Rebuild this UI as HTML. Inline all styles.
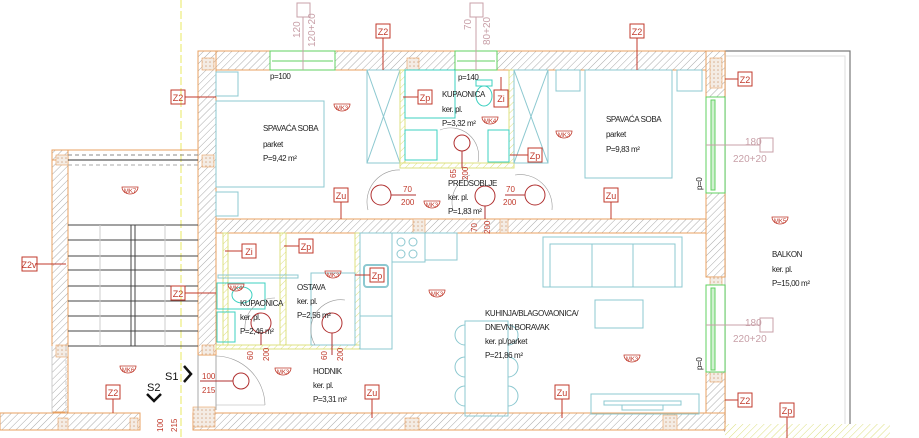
<!DOCTYPE html>
<html><head><meta charset="utf-8"><style>
html,body{margin:0;padding:0;background:#fff;width:919px;height:438px;overflow:hidden}
svg{display:block}
text{font-family:"Liberation Sans",sans-serif}
.t{font-size:8px;fill:#222;letter-spacing:-0.4px}
.r{fill:none;stroke:#c0392b;stroke-width:1}
.rt{font-size:9px;fill:#c0392b;text-anchor:middle}
.mk{font-size:6px;fill:#c0392b;text-anchor:middle}
.c{fill:none;stroke:#8cc8d0;stroke-width:1}
.cy{fill:none;stroke:#3cd0c0;stroke-width:1}
.d{font-size:8px;fill:#c0392b}
.g{font-size:10px;fill:#c8a0a8}
</style></head><body>
<svg width="919" height="438" viewBox="0 0 919 438" xmlns="http://www.w3.org/2000/svg">
<defs>
<pattern id="h" width="5" height="5" patternUnits="userSpaceOnUse" patternTransform="rotate(45)"><rect width="5" height="5" fill="#fff"/><line x1="0" y1="0" x2="0" y2="5" stroke="#aaa" stroke-width="1"/></pattern>
<pattern id="y" width="5" height="5" patternUnits="userSpaceOnUse" patternTransform="rotate(45)"><rect width="5" height="5" fill="#fff"/><line x1="0" y1="0" x2="0" y2="5" stroke="#dde080" stroke-width="1"/></pattern>
<pattern id="x" width="4" height="4" patternUnits="userSpaceOnUse"><rect width="4" height="4" fill="#f4ece4"/><circle cx="2" cy="2" r="0.8" fill="#d8b090"/></pattern>
</defs>

<!-- yellow axis -->
<line x1="181" y1="0" x2="181" y2="438" stroke="#e8e860" stroke-width="1" stroke-dasharray="8,3"/>

<!-- balcony -->
<rect x="725" y="51" width="125" height="380" fill="none" stroke="#777" stroke-width="1.2"/>
<rect x="725" y="56" width="120" height="370" fill="none" stroke="#ddd" stroke-width="1"/>
<rect x="725" y="424" width="165" height="14" fill="url(#y)"/>

<!-- outer walls -->
<g stroke="#e8a060" stroke-width="1">
<rect x="198" y="51" width="527" height="19" fill="url(#h)"/>
<rect x="198" y="51" width="18" height="304" fill="url(#h)"/>
<rect x="706" y="51" width="19" height="46" fill="url(#h)"/>
<rect x="706" y="193" width="19" height="84" fill="url(#h)"/>
<rect x="706" y="372" width="19" height="58" fill="url(#h)"/>
<rect x="216" y="219" width="490" height="14" fill="url(#h)"/>
<rect x="193" y="413" width="532" height="17" fill="url(#h)"/>
<rect x="52" y="150" width="16" height="262" fill="url(#h)"/>
<rect x="52" y="150" width="146" height="10" fill="none"/>
<rect x="0" y="413" width="140" height="17" fill="url(#h)"/>
</g>
<g fill="url(#x)" stroke="#e8a060" stroke-width="0.6">
<rect x="202" y="58" width="12" height="12"/><rect x="407" y="58" width="12" height="12"/>
<rect x="710" y="58" width="12" height="30"/><rect x="710" y="180" width="12" height="13"/>
<rect x="710" y="277" width="12" height="8"/><rect x="710" y="372" width="12" height="10"/>
<rect x="202" y="155" width="12" height="12"/><rect x="56" y="155" width="12" height="10"/>
<rect x="56" y="345" width="12" height="12"/><rect x="202" y="345" width="12" height="10"/>
<rect x="405" y="418" width="14" height="12"/><rect x="193" y="407" width="22" height="20"/>
<rect x="58" y="418" width="10" height="12"/><rect x="130" y="418" width="8" height="12"/>
<rect x="663" y="415" width="14" height="15"/><rect x="413" y="219" width="12" height="14"/>
<rect x="500" y="219" width="8" height="14"/>
</g>
<!-- top windows -->
<rect x="270" y="51" width="65" height="19" fill="#fff" stroke="#60d060"/>
<line x1="272" y1="61" x2="333" y2="61" stroke="#60d060"/>
<rect x="455" y="51" width="42" height="19" fill="#fff" stroke="#60d060"/>
<line x1="457" y1="61" x2="495" y2="61" stroke="#60d060"/>
<!-- right windows -->
<rect x="706" y="97" width="19" height="96" fill="#fff" stroke="#60d060"/>
<rect x="711" y="100" width="4" height="90" fill="#d0f0d0" stroke="#60d060"/>
<rect x="706" y="285" width="19" height="87" fill="#fff" stroke="#60d060"/>
<rect x="711" y="288" width="4" height="82" fill="#d0f0d0" stroke="#60d060"/>

<!-- stairwell -->
<line x1="68" y1="160" x2="198" y2="160" stroke="#333"/>
<line x1="68" y1="155" x2="198" y2="155" stroke="#888" stroke-dasharray="4,3"/>
<line x1="68" y1="165" x2="198" y2="165" stroke="#aaa" stroke-dasharray="4,3"/>
<g stroke="#444" stroke-width="1">
<line x1="68" y1="225" x2="198" y2="225"/><line x1="68" y1="240" x2="198" y2="240"/>
<line x1="68" y1="256" x2="198" y2="256"/><line x1="68" y1="270" x2="198" y2="270"/>
<line x1="68" y1="286" x2="198" y2="286"/><line x1="68" y1="301" x2="198" y2="301"/>
<line x1="68" y1="316" x2="198" y2="316"/><line x1="68" y1="331" x2="198" y2="331"/>
<line x1="68" y1="346" x2="198" y2="346"/>
<line x1="131" y1="225" x2="131" y2="346"/><line x1="135" y1="225" x2="135" y2="346"/>
</g>
<line x1="100" y1="225" x2="100" y2="346" stroke="#ccc"/><line x1="165" y1="225" x2="165" y2="346" stroke="#ccc"/>
<line x1="52" y1="346" x2="52" y2="413" stroke="#ccc"/><line x1="66" y1="346" x2="66" y2="413" stroke="#ccc" stroke-dasharray="4,3"/>

<!-- bedroom 1 -->
<rect x="216" y="101" width="108" height="86" class="c"/>
<rect x="216" y="72" width="22" height="24" class="c"/><rect x="216" y="192" width="22" height="24" class="c"/>
<rect x="367" y="70" width="33" height="93" class="c"/>
<line x1="367" y1="70" x2="400" y2="163" stroke="#8cc8d0"/><line x1="400" y1="70" x2="367" y2="163" stroke="#8cc8d0"/>
<!-- bath top -->
<rect x="400" y="70" width="5" height="98" fill="url(#y)" stroke="#dde080"/>
<rect x="509" y="70" width="5" height="98" fill="url(#y)" stroke="#dde080"/>
<rect x="400" y="163" width="114" height="5" fill="url(#y)" stroke="#dde080"/>
<rect x="405" y="70" width="50" height="48" class="cy"/>
<rect x="405" y="130" width="32" height="30" class="cy"/>
<ellipse cx="484" cy="96" rx="8" ry="10" class="cy"/><rect x="476" y="80" width="16" height="6" class="cy"/>
<rect x="488" y="130" width="21" height="32" class="cy"/>
<circle cx="462" cy="143" r="8" fill="none" stroke="#b03030"/>
<path d="M440 130 A28 28 0 0 1 478 162" fill="none" stroke="#999" stroke-width="0.6"/>
<line x1="462" y1="151" x2="462" y2="168" stroke="#b03030"/>
<!-- bedroom 2 -->
<rect x="514" y="70" width="34" height="93" class="c"/>
<line x1="514" y1="70" x2="548" y2="163" stroke="#8cc8d0"/><line x1="548" y1="70" x2="514" y2="163" stroke="#8cc8d0"/>
<rect x="585" y="70" width="87" height="108" class="c"/>
<rect x="556" y="70" width="24" height="21" class="c"/><rect x="677" y="70" width="25" height="21" class="c"/>
<!-- predsoblje doors -->
<circle cx="381" cy="195" r="10" fill="none" stroke="#b03030"/><line x1="391" y1="195" x2="405" y2="195" stroke="#b03030"/>
<path d="M400 170 A32 32 0 0 0 368 210" fill="none" stroke="#999" stroke-width="0.6"/>
<circle cx="485" cy="196" r="10" fill="none" stroke="#b03030"/><line x1="485" y1="206" x2="485" y2="219" stroke="#b03030"/>
<path d="M470 175 A30 30 0 0 0 453 210" fill="none" stroke="#999" stroke-width="0.6"/>
<circle cx="535" cy="195" r="10" fill="none" stroke="#b03030"/><line x1="505" y1="195" x2="525" y2="195" stroke="#b03030"/>
<path d="M515 175 A32 32 0 0 1 552 210" fill="none" stroke="#999" stroke-width="0.6"/>

<!-- lower left rooms -->
<rect x="223" y="233" width="5" height="112" fill="url(#y)" stroke="#dde080"/>
<rect x="280" y="233" width="6" height="112" fill="url(#y)" stroke="#dde080"/>
<rect x="355" y="233" width="5" height="116" fill="url(#y)" stroke="#dde080"/>
<rect x="216" y="345" width="144" height="4" fill="url(#y)" stroke="#dde080"/>
<rect x="217" y="283" width="48" height="26" class="cy"/>
<ellipse cx="242" cy="295" rx="10" ry="8" class="cy"/>
<rect x="217" y="312" width="18" height="30" class="cy"/>
<rect x="218" y="275" width="80" height="3" class="c" stroke-width="0.5"/>
<circle cx="261" cy="323" r="10" fill="none" stroke="#b03030"/><line x1="261" y1="333" x2="261" y2="345" stroke="#b03030"/>
<path d="M275 298 A30 30 0 0 0 245 330" fill="none" stroke="#999" stroke-width="0.6"/>
<rect x="311" y="273" width="44" height="72" class="c"/>
<circle cx="332" cy="323" r="10" fill="none" stroke="#b03030"/><line x1="332" y1="333" x2="332" y2="355" stroke="#b03030"/>
<path d="M345 300 A30 30 0 0 0 315 345" fill="none" stroke="#999" stroke-width="0.6"/>
<!-- entry door -->
<line x1="198" y1="355" x2="198" y2="410" stroke="#aaa"/><line x1="216" y1="355" x2="216" y2="410" stroke="#aaa"/>
<circle cx="241" cy="381" r="8" fill="none" stroke="#b03030"/><line x1="200" y1="381" x2="233" y2="381" stroke="#b03030"/>
<path d="M216 356 A50 50 0 0 1 265 405" fill="none" stroke="#999" stroke-width="0.6"/>
<line x1="216" y1="405" x2="265" y2="405" stroke="#aaa" stroke-width="0.6"/>

<!-- kitchen -->
<rect x="360" y="233" width="32" height="116" class="c"/>
<line x1="360" y1="316" x2="392" y2="316" stroke="#8cc8d0"/>
<rect x="392" y="233" width="33" height="29" class="c"/>
<circle cx="401" cy="242" r="4" class="c"/><circle cx="413" cy="242" r="4" class="c"/>
<circle cx="401" cy="254" r="4" class="c"/><circle cx="413" cy="254" r="4" class="c"/>
<rect x="425" y="233" width="32" height="27" class="c"/>
<rect x="364" y="265" width="24" height="22" rx="3" fill="none" stroke="#8cc8d0" stroke-width="2"/>
<rect x="465" y="321" width="43" height="95" class="c"/>
<g class="c"><path d="M465 325 A10 10 0 0 0 465 345"/><path d="M465 357 A10 10 0 0 0 465 377"/><path d="M465 386 A10 10 0 0 0 465 406"/>
<path d="M508 325 A10 10 0 0 1 508 345"/><path d="M508 357 A10 10 0 0 1 508 377"/><path d="M508 386 A10 10 0 0 1 508 406"/></g>
<!-- living -->
<rect x="543" y="237" width="139" height="50" class="c"/>
<rect x="550" y="244" width="125" height="43" class="c"/>
<line x1="592" y1="244" x2="592" y2="287" stroke="#8cc8d0"/><line x1="633" y1="244" x2="633" y2="287" stroke="#8cc8d0"/>
<rect x="595" y="300" width="48" height="28" class="c"/>
<rect x="591" y="394" width="108" height="20" class="c"/>
<rect x="604" y="401" width="77" height="4" class="c"/>
<rect x="622" y="405" width="41" height="5" class="c"/>

<!-- text -->
<g class="t">
<text x="263" y="131">SPAVAĆA SOBA</text><text x="263" y="147">parket</text><text x="263" y="161">P=9,42 m²</text>
<text x="442" y="97">KUPAONICA</text><text x="442" y="112">ker. pl.</text><text x="442" y="126">P=3,32 m²</text>
<text x="606" y="122">SPAVAĆA SOBA</text><text x="606" y="137">parket</text><text x="606" y="152">P=9,83 m²</text>
<text x="448" y="186">PREDSOBLJE</text><text x="448" y="200">ker. pl.</text><text x="448" y="214">P=1,83 m²</text>
<text x="297" y="290">OSTAVA</text><text x="297" y="304">ker. pl.</text><text x="297" y="318">P=2,56 m²</text>
<text x="240" y="306">KUPAONICA</text><text x="240" y="320">ker. pl.</text><text x="240" y="334">P=2,46 m²</text>
<text x="313" y="374">HODNIK</text><text x="313" y="388">ker. pl.</text><text x="313" y="402">P=3,31 m²</text>
<text x="485" y="316">KUHINJA/BLAGOVAONICA/</text><text x="485" y="330">DNEVNI BORAVAK</text><text x="485" y="344">ker. pl./parket</text><text x="485" y="358">P=21,86 m²</text>
<text x="772" y="257">BALKON</text><text x="772" y="272">ker. pl.</text><text x="772" y="286">P=15,00 m²</text>
<text x="270" y="79">p=100</text><text x="458" y="80">p=140</text>
<text transform="translate(702,190) rotate(-90)">p=0</text><text transform="translate(702,370) rotate(-90)">p=0</text>
</g>
<g class="g">
<text x="745" y="145">180</text><text x="733" y="162">220+20</text><rect x="760" y="138" width="13" height="14" fill="none" stroke="#c8a0a8"/>
<text x="745" y="326">180</text><text x="733" y="342">220+20</text><rect x="760" y="318" width="13" height="14" fill="none" stroke="#c8a0a8"/>
<text transform="translate(300,38) rotate(-90)">120</text><text transform="translate(315,47) rotate(-90)">120+20</text>
<rect x="297" y="3" width="13" height="14" fill="none" stroke="#c8a0a8"/><line x1="303" y1="17" x2="303" y2="70" stroke="#c8a0a8"/>
<text transform="translate(471,30) rotate(-90)">70</text><text transform="translate(490,45) rotate(-90)">80+20</text>
<rect x="470" y="3" width="13" height="14" fill="none" stroke="#c8a0a8"/><line x1="476" y1="17" x2="476" y2="70" stroke="#c8a0a8"/>
</g>
<line x1="706" y1="145" x2="760" y2="145" stroke="#c8a0a8"/><line x1="706" y1="325" x2="760" y2="325" stroke="#c8a0a8"/>
<g class="d">
<text x="403" y="192">70</text><text x="401" y="205">200</text><line x1="401" y1="195" x2="416" y2="195" stroke="#b03030"/>
<text x="506" y="192">70</text><text x="503" y="205">200</text>
<text transform="translate(456,178) rotate(-90)">65</text><text transform="translate(468,180) rotate(-90)">200</text>
<text transform="translate(477,232) rotate(-90)">70</text><text transform="translate(490,234) rotate(-90)">200</text>
<text x="202" y="379">100</text><text x="202" y="393">215</text>
<text transform="translate(253,360) rotate(-90)">60</text><text transform="translate(269,361) rotate(-90)">200</text>
<text transform="translate(327,360) rotate(-90)">60</text><text transform="translate(343,361) rotate(-90)">200</text>
<text transform="translate(163,432) rotate(-90)">100</text><text transform="translate(177,432) rotate(-90)">215</text>
</g>
<text x="165" y="380" style="font-size:11px;fill:#111">S1</text>
<path d="M184 366 L191 374 L184 382" fill="none" stroke="#111" stroke-width="2.5"/>
<text x="147" y="391" style="font-size:11px;fill:#111">S2</text>
<path d="M147 394 L154 401 L161 394" fill="none" stroke="#111" stroke-width="2.5"/>

<!-- red labels -->
<g stroke="#c0392b" stroke-width="1">
<line x1="383" y1="38" x2="383" y2="70"/><line x1="185" y1="97" x2="216" y2="97"/>
<line x1="403" y1="97" x2="418" y2="97"/><line x1="501" y1="77" x2="501" y2="90"/>
<line x1="637" y1="38" x2="637" y2="70"/><line x1="725" y1="79" x2="738" y2="79"/>
<line x1="510" y1="155" x2="528" y2="155"/><line x1="341" y1="202" x2="341" y2="219"/>
<line x1="611" y1="202" x2="611" y2="219"/><line x1="36" y1="264" x2="66" y2="264"/>
<line x1="225" y1="251" x2="242" y2="251"/><line x1="284" y1="246" x2="299" y2="246"/>
<line x1="355" y1="275" x2="370" y2="275"/><line x1="185" y1="293" x2="216" y2="293"/>
<line x1="372" y1="399" x2="372" y2="418"/><line x1="562" y1="399" x2="562" y2="418"/>
<line x1="113" y1="399" x2="113" y2="413"/><line x1="725" y1="400" x2="738" y2="400"/>
<line x1="787" y1="417" x2="787" y2="438"/>
</g>
<g>
<rect class="r" x="376" y="24" width="14" height="14"/><text class="rt" x="383" y="35">Z2</text>
<rect class="r" x="171" y="90" width="14" height="14"/><text class="rt" x="178" y="101">Z2</text>
<rect class="r" x="418" y="90" width="14" height="14"/><text class="rt" x="425" y="101">Zp</text>
<rect class="r" x="494" y="90" width="14" height="17"/><text class="rt" x="501" y="102">Zi</text>
<rect class="r" x="630" y="24" width="14" height="14"/><text class="rt" x="637" y="35">Z2</text>
<rect class="r" x="738" y="72" width="14" height="14"/><text class="rt" x="745" y="83">Z2</text>
<rect class="r" x="528" y="148" width="14" height="14"/><text class="rt" x="535" y="159">Zp</text>
<rect class="r" x="334" y="188" width="14" height="14"/><text class="rt" x="341" y="199">Zu</text>
<rect class="r" x="604" y="188" width="14" height="14"/><text class="rt" x="611" y="199">Zu</text>
<rect class="r" x="22" y="257" width="15" height="14"/><text class="rt" x="29" y="268">Z2v</text>
<rect class="r" x="242" y="244" width="14" height="14"/><text class="rt" x="249" y="255">Zi</text>
<rect class="r" x="299" y="239" width="14" height="14"/><text class="rt" x="306" y="250">Zp</text>
<rect class="r" x="370" y="268" width="14" height="14"/><text class="rt" x="377" y="279">Zp</text>
<rect class="r" x="171" y="286" width="14" height="14"/><text class="rt" x="178" y="297">Z2</text>
<rect class="r" x="365" y="385" width="14" height="14"/><text class="rt" x="372" y="396">Zu</text>
<rect class="r" x="555" y="385" width="14" height="14"/><text class="rt" x="562" y="396">Zu</text>
<rect class="r" x="106" y="385" width="14" height="14"/><text class="rt" x="113" y="396">Z2</text>
<rect class="r" x="738" y="393" width="14" height="14"/><text class="rt" x="745" y="404">Z2</text>
<rect class="r" x="780" y="403" width="14" height="14"/><text class="rt" x="787" y="414">Zp</text>
</g>
<!-- MK labels -->
<g fill="none" stroke="#c0392b" stroke-width="0.8">
<path d="M334 104 h16 a8 7 0 0 1 -16 0z"/><path d="M556 131 h16 a8 7 0 0 1 -16 0z"/>
<path d="M482 117 h16 a8 7 0 0 1 -16 0z"/><path d="M424 201 h16 a8 7 0 0 1 -16 0z"/>
<path d="M122 187 h16 a8 7 0 0 1 -16 0z"/><path d="M772 217 h16 a8 7 0 0 1 -16 0z"/>
<path d="M228 284 h16 a8 7 0 0 1 -16 0z"/><path d="M325 271 h16 a8 7 0 0 1 -16 0z"/>
<path d="M429 290 h16 a8 7 0 0 1 -16 0z"/><path d="M120 366 h16 a8 7 0 0 1 -16 0z"/>
<path d="M275 368 h16 a8 7 0 0 1 -16 0z"/><path d="M624 355 h16 a8 7 0 0 1 -16 0z"/>
</g>
<g class="mk">
<text x="342" y="110">MK3</text><text x="564" y="137">MK3</text><text x="490" y="123">MK4</text>
<text x="432" y="207">MK3</text><text x="130" y="193">MK7</text><text x="780" y="223">MK5</text>
<text x="236" y="290">MK4</text><text x="333" y="277">MK3</text><text x="437" y="296">MK3</text>
<text x="128" y="372">MK6</text><text x="283" y="374">MK3</text><text x="632" y="361">MK3</text>
</g>
</svg>
</body></html>
